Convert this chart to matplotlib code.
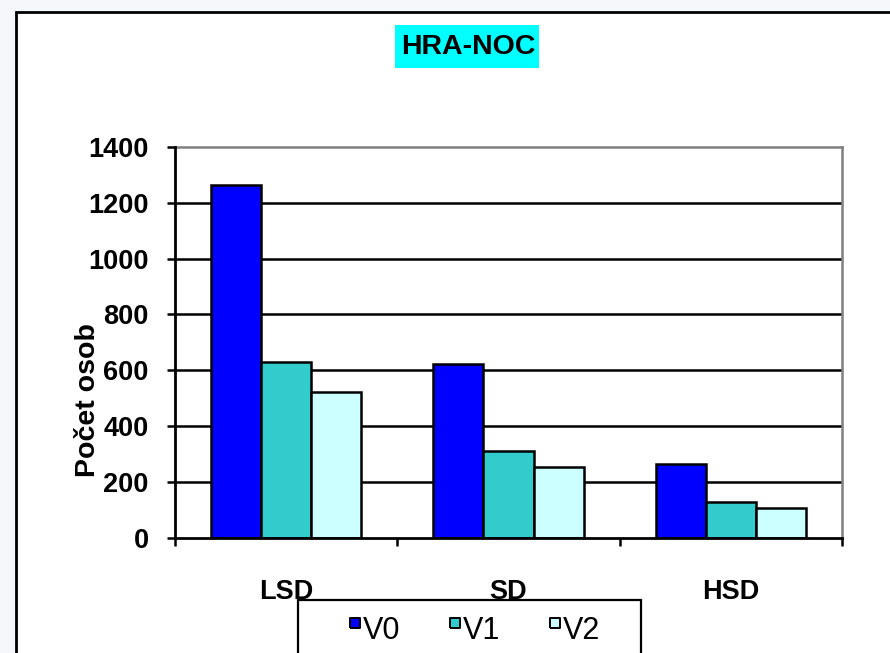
import matplotlib
matplotlib.use("Agg")
import matplotlib.pyplot as plt
from matplotlib.patches import Rectangle
from matplotlib.lines import Line2D
import numpy as np

plt.rcParams['font.family'] = ['Liberation Sans', 'DejaVu Sans']

# Data
categories = ["LSD", "SD", "HSD"]
series_names = ["V0", "V1", "V2"]
v0 = [1265, 622, 262]
v1 = [630, 310, 127]
v2 = [523, 253, 104]
y_ticks = [0, 200, 400, 600, 800, 1000, 1200, 1400]
title = "HRA-NOC"
y_label = "Počet osob"

colors = ["#0000FF", "#33CCCC", "#CCFFFF"]

W, H = 890, 653
fig = plt.figure(figsize=(W / 100, H / 100), dpi=100, facecolor="#F5F7FB")

def fx(px):
    return px / W

def fy(py):
    return 1 - py / H

# Chart frame (white panel with black border, running off the right/bottom)
fig.patches.append(Rectangle((fx(16), fy(700)), fx(900), fy(12) - fy(700),
                             transform=fig.transFigure, facecolor="white",
                             edgecolor="black", linewidth=2.0, zorder=0))

# Plot area
ax = fig.add_axes([fx(175), fy(537.5), fx(842) - fx(175), fy(147) - fy(537.5)])
ax.set_zorder(2)
ax.set_facecolor("white")

x = np.arange(len(categories))
bw = 0.225
for i, (vals, col, name) in enumerate(zip([v0, v1, v2], colors, series_names)):
    ax.bar(x + (i - 1) * bw, vals, width=bw, color=col, edgecolor="black",
           linewidth=1.8, label=name, zorder=3)

ax.set_xlim(-0.5, len(categories) - 0.5)
ax.set_ylim(0, 1400)
ax.set_yticks(y_ticks)
ax.set_yticklabels([str(t) for t in y_ticks], fontsize=19.5, fontweight="bold")
for t in y_ticks[1:-1]:
    ax.axhline(t, color="black", linewidth=1.8, zorder=1)

# x axis: category labels at centres, tick marks at boundaries
ax.set_xticks(x)
ax.set_xticklabels(categories, fontsize=19.5, fontweight="bold")
ax.tick_params(axis="x", which="major", length=0, pad=30)
ax.set_xticks(np.arange(-0.5, len(categories), 1.0), minor=True)
ax.tick_params(axis="x", which="minor", length=6, width=1.8, color="black")
ax.tick_params(axis="y", length=6, width=1.8, pad=13)

for side in ["left", "bottom"]:
    ax.spines[side].set_color("black")
    ax.spines[side].set_linewidth(2.0)
for side in ["top", "right"]:
    ax.spines[side].set_color("#808080")
    ax.spines[side].set_linewidth(1.8)
ax.spines["left"].set_zorder(4)
ax.spines["bottom"].set_zorder(4)

ax.set_ylabel(y_label, fontsize=20.5, fontweight="bold", va="center", ha="center")
ax.yaxis.set_label_coords((88 - 175) / 667, (537.5 - 400) / 390.5)

# Title with cyan box
fig.patches.append(Rectangle((fx(395), fy(68)), fx(539) - fx(395), fy(25) - fy(68),
                             transform=fig.transFigure, facecolor="#00FFFF",
                             edgecolor="none", zorder=1))
fig.text(fx(468), fy(47), title, fontsize=20.5, fontweight="bold",
         ha="center", va="center", zorder=3)

# Legend box running off the bottom edge
fig.patches.append(Rectangle((fx(298), fy(700)), fx(641) - fx(298), fy(600) - fy(700),
                             transform=fig.transFigure, facecolor="white",
                             edgecolor="black", linewidth=1.6, zorder=5))
# square swatch sitting above the marker centre, so it lines up with the cap height
raised_square = [(-1, 0), (1, 0), (1, 2), (-1, 2), (-1, 0)]
handles = [Line2D([], [], linestyle="none", marker=raised_square, markersize=15,
                  markerfacecolor=c, markeredgecolor="black", markeredgewidth=1.4)
           for c in colors]
leg = fig.legend(handles, series_names, loc="center",
                 bbox_to_anchor=(fx(474), fy(631)), ncol=3, frameon=False,
                 fontsize=22, handlelength=0.45, handletextpad=0.05,
                 columnspacing=1.55)
leg.set_zorder(6)

fig.savefig("out.png", dpi=100, facecolor=fig.get_facecolor())
